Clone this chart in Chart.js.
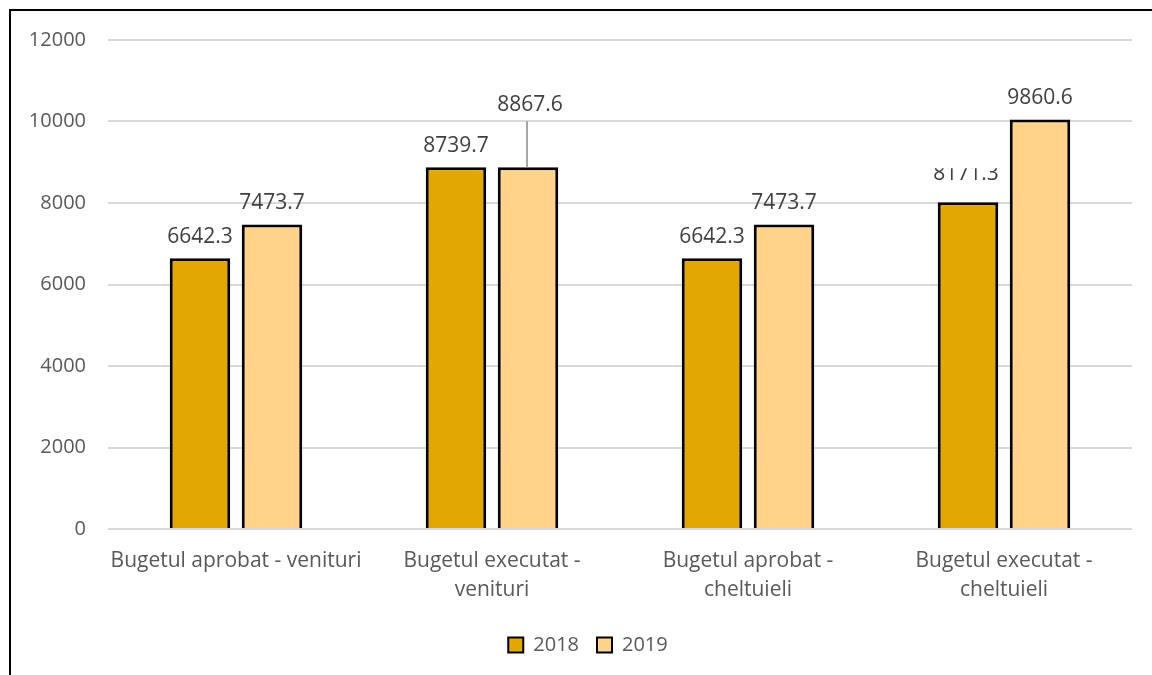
<!DOCTYPE html>
<html>
<head>
<meta charset="utf-8">
<script src="https://cdn.jsdelivr.net/npm/chart.js@4/dist/chart.umd.min.js"></script>
<style>
    html, body { margin: 0; padding: 0; background: #fff; }
    canvas { display: block; }
</style>
</head>
<body>
<canvas id="budget-chart" width="1152" height="675"></canvas>
<script>
// categories and series
var categories = [
    'Bugetul aprobat - venituri',
    ['Bugetul executat -', 'venituri'],
    ['Bugetul aprobat -', 'cheltuieli'],
    ['Bugetul executat -', 'cheltuieli']
];
var seriesNames = ['2018', '2019'];

// bar heights as drawn in the picture
var values2018 = [6642.3, 8880, 6642.3, 8020];
var values2019 = [7473.7, 8880, 7473.7, 10050];

// data label texts as printed on the picture
var labels2018 = ['6642.3', '8739.7', '6642.3', '8171.3'];
var labels2019 = ['7473.7', '8867.6', '7473.7', '9860.6'];

var yTicks = [0, 2000, 4000, 6000, 8000, 10000, 12000];

var textFont = "'Open Sans', 'Noto Sans', sans-serif";

// frame around the chart, legend nudged to the right
var framePlugin = {
    id: 'frame',
    afterLayout: function (chart) {
        if (chart.legend) chart.legend.left += 44;
    },
    beforeDraw: function (chart) {
        var ctx = chart.ctx;
        ctx.save();
        ctx.fillStyle = '#ffffff';
        ctx.fillRect(0, 0, chart.width, chart.height);
        ctx.fillStyle = '#000000';
        ctx.fillRect(9, 9, chart.width - 9, 2);
        ctx.fillRect(9, 9, 2, chart.height - 9);
        ctx.restore();
    }
};

// value labels above the bars
var valueLabelPlugin = {
    id: 'valueLabels',
    afterDatasetsDraw: function (chart) {
        var ctx = chart.ctx;
        var texts = [labels2018, labels2019];
        ctx.save();
        ctx.font = '21px ' + textFont;
        ctx.fillStyle = '#404040';
        ctx.textAlign = 'center';
        ctx.textBaseline = 'middle';
        chart.data.datasets.forEach(function (ds, di) {
            var meta = chart.getDatasetMeta(di);
            meta.data.forEach(function (bar, i) {
                var x = bar.x;
                var y = bar.y - 21;
                var text = texts[di][i];

                if (di === 1 && i === 1) {
                    // label pulled up with a leader line
                    y = bar.y - 62;
                    ctx.save();
                    ctx.strokeStyle = '#a6a6a6';
                    ctx.lineWidth = 2;
                    ctx.beginPath();
                    ctx.moveTo(x - 1, y + 16);
                    ctx.lineTo(x - 1, bar.y);
                    ctx.stroke();
                    ctx.restore();
                    ctx.fillText(text, x + 2, y);
                    return;
                }

                if (di === 0 && i === 3) {
                    // label whose top is cut off
                    y = bar.y - 28;
                    ctx.save();
                    ctx.beginPath();
                    ctx.rect(x - 60, y - 6, 120, 40);
                    ctx.clip();
                    ctx.fillText(text, x - 2, y);
                    ctx.restore();
                    return;
                }

                ctx.fillText(text, x, y);
            });
        });
        ctx.restore();
    }
};

var ctx = document.getElementById('budget-chart').getContext('2d');

new Chart(ctx, {
    type: 'bar',
    data: {
        labels: categories,
        datasets: [{
            label: seriesNames[0],
            data: values2018,
            backgroundColor: '#e0a800',
            borderColor: '#000000',
            borderWidth: 3,
            borderSkipped: 'bottom'
        }, {
            label: seriesNames[1],
            data: values2019,
            backgroundColor: '#ffd38a',
            borderColor: '#000000',
            borderWidth: 3,
            borderSkipped: 'bottom'
        }]
    },
    options: {
        responsive: false,
        animation: false,
        categoryPercentage: 0.5625,
        barPercentage: 0.84,
        layout: {
            padding: { top: 40, right: 20, left: 0, bottom: 10 }
        },
        plugins: {
            legend: {
                position: 'bottom',
                labels: {
                    font: { size: 20, family: textFont },
                    color: '#595959',
                    boxWidth: 15,
                    boxHeight: 15,
                    padding: 18,
                    generateLabels: function (chart) {
                        return chart.data.datasets.map(function (ds, i) {
                            return {
                                text: ds.label,
                                fillStyle: ds.backgroundColor,
                                strokeStyle: '#000000',
                                lineWidth: 2,
                                fontColor: '#595959',
                                datasetIndex: i
                            };
                        });
                    }
                }
            },
            tooltip: { enabled: false }
        },
        scales: {
            x: {
                grid: { display: false },
                border: { display: false },
                ticks: {
                    font: { size: 21, family: textFont, lineHeight: 1.38 },
                    color: '#595959',
                    maxRotation: 0,
                    autoSkip: false,
                    padding: 10
                },
                afterFit: function (scale) { scale.height = 88; }
            },
            y: {
                min: 0,
                max: 12000,
                afterBuildTicks: function (scale) {
                    scale.ticks = yTicks.map(function (v) { return { value: v }; });
                },
                grid: { color: '#d9d9d9', lineWidth: 2, drawTicks: false },
                border: { display: false },
                ticks: {
                    font: { size: 20, family: textFont },
                    color: '#595959',
                    padding: 22,
                    callback: function (v) { return String(v); }
                },
                afterFit: function (scale) { scale.width = 108; }
            }
        }
    },
    plugins: [framePlugin, valueLabelPlugin]
});
</script>
</body>
</html>
